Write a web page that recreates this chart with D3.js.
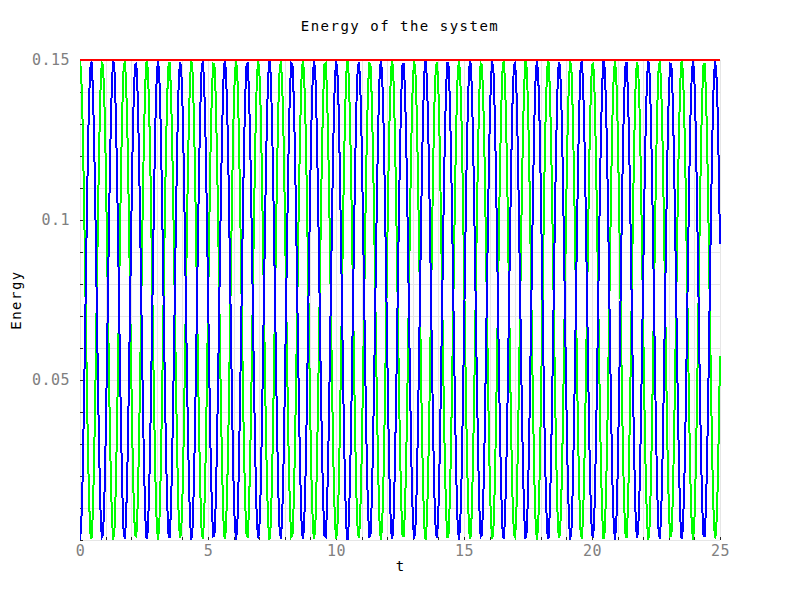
<!DOCTYPE html>
<html>
<head>
<meta charset="utf-8">
<script src="https://cdn.jsdelivr.net/npm/d3@7"></script>
<style>
  html, body { margin: 0; padding: 0; background: #ffffff; }
  svg { display: block; }
</style>
</head>
<body>
<svg id="chart" width="800" height="600"></svg>
<script>
// ---------------- data ----------------
const chartTitle = "Energy of the system";
const xLabel = "t";
const yLabel = "Energy";
const timeStart = 0;
const timeStep = 0.05;           // sampling step of the series (t = 0 .. 25)
const xTickValues = [0, 5, 10, 15, 20, 25];
const yTickValues = [0.05, 0.1, 0.15];
const yTickLabels = ["0.05", "0.1", "0.15"];
const totalT = [0, 25];
const totalEnergy = [0.15, 0.15];

// kinetic energy (green)
const kinetic = [
.1500,.1451,.1313,.1102,.0845,.0577,.0330,.0138,.0025,.0005,
.0081,.0243,.0470,.0734,.0999,.1233,.1404,.1491,.1483,.1380,
.1196,.0955,.0687,.0427,.0210,.0061,.0001,.0038,.0166,.0370,
.0622,.0891,.1142,.1342,.1466,.1498,.1434,.1281,.1060,.0799,
.0532,.0293,.0113,.0014,.0011,.0103,.0278,.0514,.0780,.1043,
.1267,.1426,.1497,.1472,.1354,.1158,.0910,.0641,.0386,.0178,
.0044,.0001,.0054,.0197,.0411,.0668,.0937,.1181,.1370,.1479,
.1494,.1413,.1247,.1017,.0753,.0488,.0257,.0090,.0007,.0020,
.0127,.0315,.0558,.0827,.1085,.1300,.1444,.1499,.1458,.1325,
.1118,.0864,.0595,.0346,.0150,.0030,.0003,.0072,.0229,.0453,
.0715,.0981,.1218,.1395,.1489,.1487,.1390,.1211,.0973,.0706,
.0445,.0223,.0068,.0002,.0032,.0155,.0354,.0604,.0873,.1126,
.1331,.1460,.1499,.1441,.1294,.1077,.0818,.0550,.0308,.0123,
.0019,.0008,.0094,.0263,.0496,.0761,.1025,.1253,.1417,.1495,
.1477,.1365,.1174,.0928,.0660,.0403,.0191,.0051,.0000,.0047,
.0184,.0394,.0650,.0918,.1165,.1359,.1474,.1496,.1422,.1261,
.1035,.0772,.0506,.0271,.0098,.0010,.0016,.0117,.0300,.0540,
.0808,.1068,.1287,.1437,.1498,.1464,.1337,.1135,.0883,.0614,
.0362,.0161,.0035,.0002,.0064,.0215,.0435,.0696,.0963,.1203,
.1385,.1485,.1490,.1400,.1226,.0991,.0725,.0462,.0237,.0077,
.0004,.0027,.0143,.0338,.0585,.0854,.1109,.1318,.1455,.1500,
.1448,.1307,.1094,.0837,.0568,.0323,.0133,.0023,.0006,.0085,
.0249,.0478,.0742,.1007,.1239,.1408,.1492,.1481,.1375,.1189,
.0947,.0679,.0420,.0204,.0058,.0001,.0041,.0172,.0377,.0631,
.0900,.1149,.1347,.1469,.1498,.1430,.1275,.1052,.0791,.0524,
.0286,.0108,.0013,.0012,.0107,.0285,.0522,.0789,.1050,.1274,
.1430,.1498,.1469,.1348,.1151,.0901,.0633,.0379,.0173,.0041,
.0001,.0057,.0203,.0418,.0677,.0945,.1188,.1374,.1480,.1492,
.1409,.1241,.1009,.0744,.0480,.0251,.0086,.0006,.0022,.0132,
.0322,.0567,.0835,.1092,.1306,.1447,.1500,.1455,.1320,.1111,
.0856,.0587,.0339,.0144,.0027,.0003,.0076,.0235,.0461,.0723,
.0989,.1225,.1399,.1490,.1485,.1386,.1204,.0965,.0698,.0437,
.0217,.0065,.0002,.0035,.0160,.0361,.0612,.0881,.1133,.1336,
.1463,.1498,.1438,.1288,.1070,.0809,.0542,.0301,.0118,.0017,
.0009,.0097,.0270,.0504,.0770,.1033,.1260,.1421,.1496,.1475,
.1360,.1167,.0920,.0651,.0395,.0185,.0047,.0000,.0050,.0190,
.0401,.0658,.0927,.1173,.1364,.1476,.1495,.1418,.1255,.1027,
.0763,.0497,.0264,.0094,.0008,.0018,.0122,.0307,.0548,.0816,
.1076,.1293,.1440,.1499,.1461,.1332,.1127,.0874,.0605,.0355,
.0156,.0033,.0002,.0068,.0221,.0443,.0704,.0971,.1210,.1389,
.1486,.1489,.1396,.1219,.0983,.0716,.0454,.0230,.0073,.0003,
.0029,.0148,.0345,.0594,.0862,.1117,.1324,.1457,.1499,.1445,
.1301,.1086,.0828,.0560,.0316,.0128,.0021,.0007,.0089,.0256,
.0486,.0751,.1015,.1246,.1412,.1493,.1479,.1371,.1183,.0938,
.0670,.0412,.0198,.0055,.0001,.0043,.0177,.0385,.0639,.0908,
.1157,.1353,.1471,.1497,.1426,.1269,.1044,.0782,.0516,.0279,
.0103,.0011,.0014,.0112,.0292,.0530,.0797,.1058,.1280,.1433,
.1498,.1467,.1343,.1143,.0893,.0624,.0371,.0167,.0039,.0001,
.0060,.0208,.0426,.0685,.0953,.1195,.1379,.1482,.1491,.1405,
.1234,.1001,.0735,.0472,.0244,.0082,.0005,.0024,.0137,.0329,
.0575
];

// potential energy (blue)
const potential = [
.0000,.0049,.0187,.0398,.0655,.0923,.1170,.1362,.1475,.1495,
.1419,.1257,.1030,.0766,.0501,.0267,.0096,.0009,.0017,.0120,
.0304,.0545,.0813,.1073,.1290,.1439,.1499,.1462,.1334,.1130,
.0878,.0609,.0358,.0158,.0034,.0002,.0066,.0219,.0440,.0701,
.0968,.1207,.1387,.1486,.1489,.1397,.1222,.0986,.0720,.0457,
.0233,.0074,.0003,.0028,.0146,.0342,.0590,.0859,.1114,.1322,
.1456,.1499,.1446,.1303,.1089,.0832,.0563,.0319,.0130,.0021,
.0006,.0087,.0253,.0483,.0747,.1012,.1243,.1410,.1493,.1480,
.1373,.1185,.0942,.0673,.0415,.0200,.0056,.0001,.0042,.0175,
.0382,.0636,.0905,.1154,.1350,.1470,.1497,.1428,.1271,.1047,
.0785,.0519,.0282,.0105,.0011,.0013,.0110,.0289,.0527,.0794,
.1055,.1277,.1432,.1498,.1468,.1345,.1146,.0896,.0627,.0374,
.0169,.0040,.0001,.0059,.0206,.0423,.0682,.0950,.1192,.1377,
.1481,.1492,.1406,.1237,.1004,.0739,.0475,.0247,.0083,.0005,
.0023,.0135,.0326,.0572,.0840,.1097,.1309,.1449,.1500,.1453,
.1316,.1106,.0850,.0582,.0335,.0141,.0026,.0004,.0078,.0239,
.0465,.0728,.0994,.1229,.1402,.1490,.1484,.1383,.1200,.0960,
.0692,.0432,.0213,.0063,.0002,.0036,.0163,.0365,.0617,.0886,
.1138,.1339,.1465,.1498,.1436,.1285,.1065,.0804,.0537,.0297,
.0115,.0015,.0010,.0100,.0274,.0509,.0775,.1038,.1263,.1423,
.1496,.1473,.1357,.1162,.0915,.0646,.0391,.0182,.0045,.0000,
.0052,.0193,.0406,.0663,.0932,.1177,.1367,.1477,.1494,.1415,
.1251,.1022,.0758,.0493,.0261,.0092,.0008,.0019,.0125,.0311,
.0553,.0821,.1080,.1296,.1442,.1499,.1459,.1328,.1123,.0869,
.0600,.0351,.0153,.0031,.0002,.0070,.0225,.0448,.0709,.0976,
.1214,.1392,.1487,.1488,.1393,.1215,.0978,.0711,.0450,.0226,
.0070,.0002,.0031,.0152,.0349,.0599,.0867,.1121,.1327,.1459,
.1499,.1443,.1297,.1082,.0823,.0555,.0312,.0126,.0020,.0008,
.0091,.0259,.0491,.0756,.1020,.1249,.1414,.1494,.1478,.1368,
.1178,.0933,.0665,.0408,.0194,.0053,.0000,.0045,.0180,.0389,
.0644,.0913,.1161,.1356,.1473,.1497,.1424,.1265,.1039,.0777,
.0511,.0275,.0101,.0010,.0015,.0114,.0296,.0535,.0802,.1063,
.1283,.1435,.1498,.1465,.1340,.1139,.0888,.0619,.0367,.0164,
.0037,.0002,.0062,.0212,.0430,.0691,.0958,.1199,.1382,.1483,
.1491,.1403,.1230,.0996,.0730,.0467,.0240,.0079,.0004,.0025,
.0140,.0333,.0580,.0849,.1105,.1315,.1453,.1500,.1450,.1310,
.1099,.0842,.0573,.0327,.0136,.0024,.0005,.0082,.0245,.0473,
.0737,.1003,.1236,.1406,.1492,.1482,.1378,.1193,.0952,.0684,
.0424,.0207,.0060,.0001,.0039,.0168,.0373,.0626,.0895,.1145,
.1344,.1467,.1498,.1432,.1279,.1057,.0796,.0529,.0290,.0111,
.0014,.0011,.0104,.0281,.0517,.0784,.1046,.1270,.1427,.1497,
.1471,.1352,.1155,.0906,.0638,.0383,.0176,.0043,.0001,.0055,
.0199,.0414,.0672,.0940,.1184,.1372,.1479,.1493,.1411,.1244,
.1014,.0749,.0485,.0254,.0088,.0007,.0021,.0129,.0317,.0562,
.0830,.1088,.1302,.1445,.1499,.1457,.1323,.1115,.0861,.0592,
.0343,.0147,.0029,.0003,.0074,.0231,.0456,.0718,.0984,.1221,
.1397,.1489,.1486,.1388,.1208,.0970,.0703,.0442,.0220,.0067,
.0002,.0033,.0157,.0357,.0607,.0876,.1129,.1333,.1461,.1499,
.1440,.1292,.1074,.0815,.0547,.0305,.0121,.0018,.0009,.0095,
.0266,.0499,.0765,.1028,.1256,.1418,.1495,.1476,.1363,.1171,
.0925
];

// ---------------- chart ----------------
const W = 800, H = 600;
const plot = { left: 80, right: 720, top: 60, bottom: 540 };

const svg = d3.select("#chart");
svg.append("rect").attr("width", W).attr("height", H).attr("fill", "#ffffff");

const x = d3.scaleLinear().domain([0, 25]).range([plot.left, plot.right]);
const y = d3.scaleLinear().domain([0, 0.15]).range([plot.bottom, plot.top]);

const mono = "'DejaVu Sans Mono', 'Liberation Mono', monospace";

// grid
const gridY = svg.append("g")
  .attr("transform", `translate(${plot.left},0)`)
  .call(d3.axisLeft(y).ticks(15).tickSize(-(plot.right - plot.left)).tickFormat(""));
gridY.selectAll("line").attr("stroke", "#e6e6e6").attr("stroke-width", 1).attr("shape-rendering", "crispEdges");
gridY.select(".domain").remove();

const gridX = svg.append("g")
  .attr("transform", `translate(0,${plot.bottom})`)
  .call(d3.axisBottom(x).ticks(25).tickSize(-(plot.bottom - plot.top)).tickFormat(""));
gridX.selectAll("line").attr("stroke", "#e6e6e6").attr("stroke-width", 1).attr("shape-rendering", "crispEdges");
gridX.select(".domain").remove();

// minor ticks (inward)
const minorY = svg.append("g")
  .attr("transform", `translate(${plot.left},0)`)
  .call(d3.axisLeft(y).ticks(15).tickSize(-3).tickFormat(""));
minorY.selectAll("line").attr("stroke", "#262626").attr("shape-rendering", "crispEdges");
minorY.select(".domain").remove();

const minorX = svg.append("g")
  .attr("transform", `translate(0,${plot.bottom})`)
  .call(d3.axisBottom(x).ticks(25).tickSize(-3).tickFormat(""));
minorX.selectAll("line").attr("stroke", "#262626").attr("shape-rendering", "crispEdges");
minorX.select(".domain").remove();

// clip
svg.append("clipPath").attr("id", "clip")
  .append("rect").attr("x", plot.left).attr("y", plot.top - 2)
  .attr("width", plot.right - plot.left + 1).attr("height", plot.bottom - plot.top + 2);

const seriesLine = d3.line()
  .x((d, i) => x(timeStart + i * timeStep))
  .y(d => y(d));

const lines = svg.append("g").attr("clip-path", "url(#clip)");
lines.append("path").datum(kinetic)
  .attr("d", seriesLine).attr("fill", "none")
  .attr("stroke", "#00ff00").attr("stroke-width", 2)
  .attr("shape-rendering", "crispEdges").attr("stroke-linejoin", "miter");
lines.append("path").datum(potential)
  .attr("d", seriesLine).attr("fill", "none")
  .attr("stroke", "#0000ff").attr("stroke-width", 2)
  .attr("shape-rendering", "crispEdges").attr("stroke-linejoin", "miter");

const totalLine = d3.line().x((d, i) => x(totalT[i])).y(d => y(d));
svg.append("path").datum(totalEnergy)
  .attr("d", totalLine).attr("fill", "none")
  .attr("stroke", "#ff0000").attr("stroke-width", 2)
  .attr("shape-rendering", "crispEdges");

// tick labels
const yAx = svg.append("g")
  .attr("transform", `translate(${plot.left},0)`)
  .call(d3.axisLeft(y).tickValues(yTickValues).tickSize(0).tickPadding(10)
    .tickFormat((d, i) => yTickLabels[i]));
yAx.select(".domain").remove();
yAx.selectAll("text").attr("fill", "#808080").style("font-family", mono)
  .style("font-size", "15px").style("letter-spacing", "0.5px");

const xAx = svg.append("g")
  .attr("transform", `translate(0,${plot.bottom})`)
  .call(d3.axisBottom(x).tickValues(xTickValues).tickSize(0).tickPadding(5)
    .tickFormat(d3.format("d")));
xAx.select(".domain").remove();
xAx.selectAll("text").attr("fill", "#808080").style("font-family", mono)
  .style("font-size", "15px").style("letter-spacing", "0.5px");

// titles
svg.append("text").attr("x", 400).attr("y", 31).attr("text-anchor", "middle")
  .style("font-family", mono).style("font-size", "14px").style("letter-spacing", "1.5px")
  .attr("fill", "#000").text(chartTitle);

svg.append("text").attr("x", 400).attr("y", 571).attr("text-anchor", "middle")
  .style("font-family", mono).style("font-size", "14px")
  .attr("fill", "#000").text(xLabel);

svg.append("text").attr("transform", "translate(21,300) rotate(-90)").attr("text-anchor", "middle")
  .style("font-family", mono).style("font-size", "14px").style("letter-spacing", "1.5px")
  .attr("fill", "#000").text(yLabel);
</script>
</body>
</html>
